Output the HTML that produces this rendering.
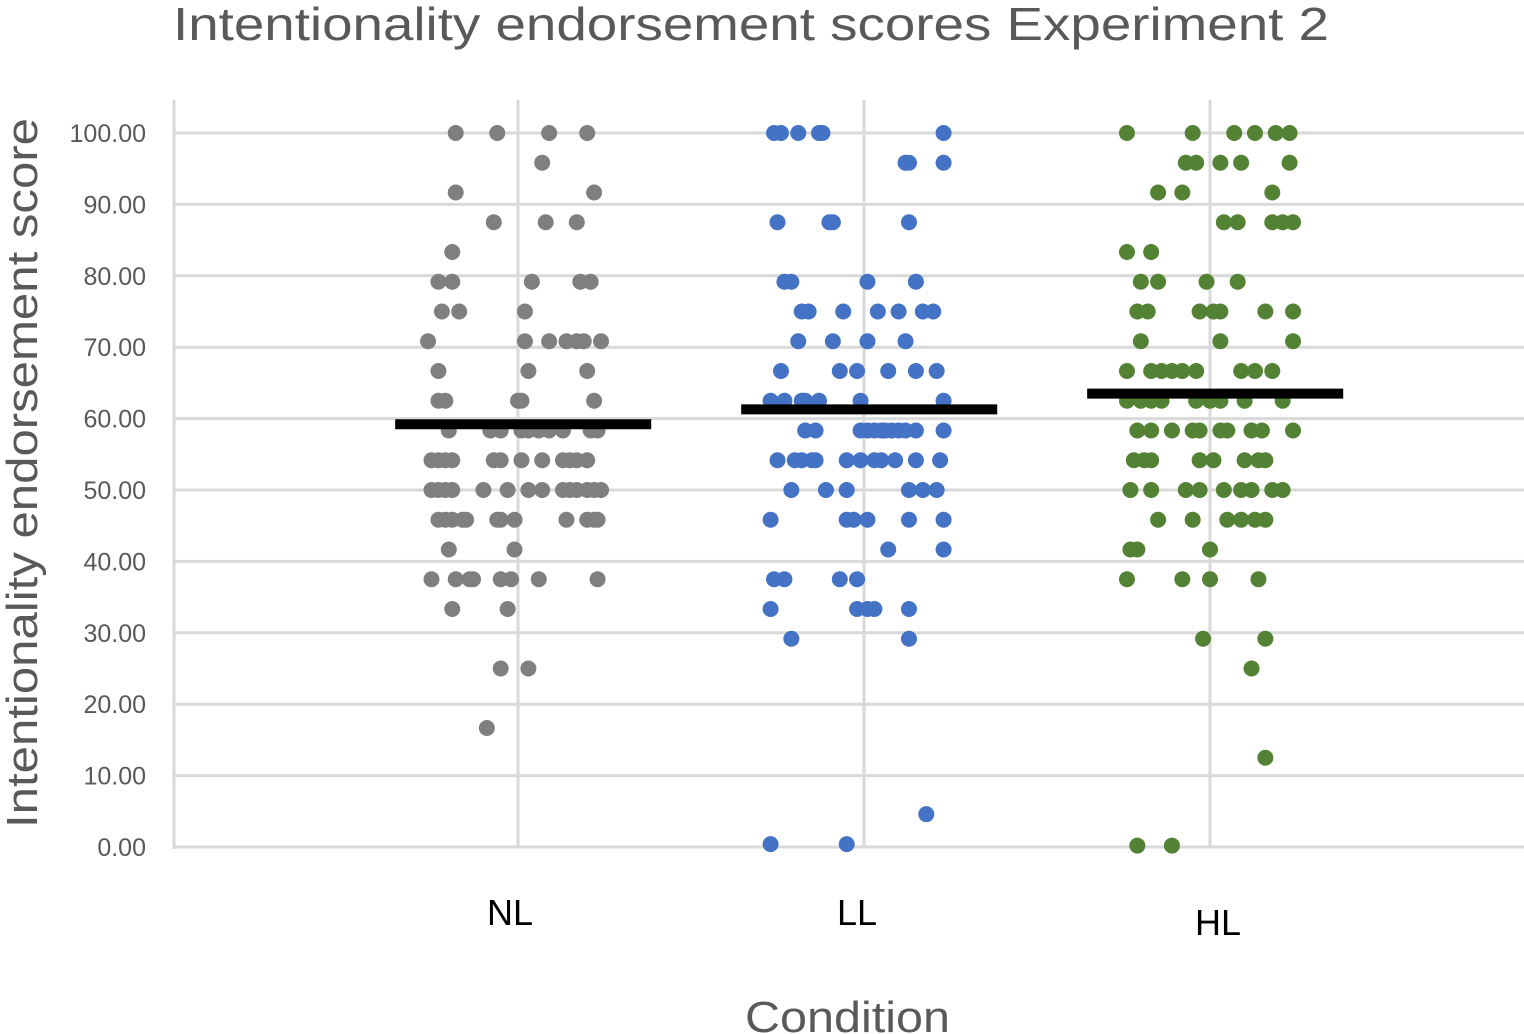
<!DOCTYPE html>
<html><head><meta charset="utf-8"><style>
html,body{margin:0;padding:0;background:#fff;}
svg{display:block;font-family:"Liberation Sans",sans-serif;}
</style></head><body>
<svg id="chart" width="1524" height="1034" viewBox="0 0 1524 1034">
<text x="173" y="40" font-size="46" fill="#595959" textLength="1156" lengthAdjust="spacingAndGlyphs">Intentionality endorsement scores Experiment 2</text>
<text transform="translate(37,828) rotate(-90)" font-size="44" fill="#595959" textLength="710" lengthAdjust="spacingAndGlyphs">Intentionality endorsement score</text>
<text x="745" y="1032" font-size="44" fill="#595959" textLength="205" lengthAdjust="spacingAndGlyphs">Condition</text>
<g id="grid"></g><g id="dots"></g><g id="means"></g><g id="labels"></g>
</svg>
<script>
const categories = ["NL","LL","HL"];
const yTicks = [0,10,20,30,40,50,60,70,80,90,100];
const means = [59.2, 61.3, 63.5];
const colors = ["#7f7f7f","#4472c4","#548235"];
// rows: [score, jitter offsets in % of category spacing]
const nlRows = [[100,[-18,-6,9,20]],[95.83,[7]],[91.67,[-18,22]],[87.5,[-7,8,17]],[83.33,[-19]],
[79.17,[-23,-19,4,18,21]],[75,[-22,-17,2]],[70.83,[-26,2,9,14,17,19,24]],[66.67,[-23,3,20]],
[62.5,[-23,-21,0,1,22]],[58.33,[-20,-8,-5,1,3,6,9,13,21,23]],[54.17,[-25,-23,-21,-19,-7,-5,1,7,13,15,17,20]],
[50,[-25,-23,-21,-19,-10,-3,3,7,13,15,17,20,22,24]],[45.83,[-23,-21,-19,-16,-15,-6,-5,-1,14,20,22,23]],
[41.67,[-20,-1]],[37.5,[-25,-18,-14,-13,-5,-2,6,23]],[33.33,[-19,-3]],[25,[-5,3]],[16.67,[-9]]];
const llRows = [[100,[-26,-24,-19,-13,-12,23]],[95.83,[12,13,23]],[87.5,[-25,-10,-9,13]],[79.17,[-23,-21,1,15]],
[75,[-18,-16,-6,4,10,17,20]],[70.83,[-19,-9,1,12]],[66.67,[-24,-7,-2,7,15,21]],[62.5,[-27,-23,-18,-17,-13,-1,23]],
[58.33,[-17,-14,-1,1,3,5,6,8,10,12,15,23]],[54.17,[-25,-20,-18,-15,-14,-5,-1,3,5,9,15,22]],
[50,[-21,-11,-5,13,17,21]],[45.83,[-27,-5,-3,1,13,23]],[41.67,[7,23]],[37.5,[-26,-23,-7,-2]],
[33.33,[-27,-2,1,3,13]],[29.17,[-21,13]],[4.6,[18]],[0.4,[-27,-5]]];
const hlRows = [[100,[-24,-5,7,13,19,23]],[95.83,[-7,-4,3,9,23]],[91.67,[-15,-8,18]],[87.5,[4,8,18,21,24]],
[83.33,[-24,-17]],[79.17,[-20,-15,-1,8]],[75,[-21,-18,-3,1,3,16,24]],[70.83,[-20,3,24]],
[66.67,[-24,-17,-14,-11,-8,-4,9,13,18]],[62.5,[-24,-20,-17,-14,-4,0,3,10,21]],
[58.33,[-21,-17,-11,-5,-3,3,5,12,15,24]],[54.17,[-22,-19,-17,-3,1,10,14,16]],
[50,[-23,-17,-7,-3,4,9,12,18,21]],[45.83,[-15,-5,5,9,13,16]],[41.67,[-23,-21,0]],
[37.5,[-24,-8,0,14]],[29.17,[-2,16]],[25,[12]],[12.5,[16]],[0.2,[-21,-11]]];
const groups = [nlRows, llRows, hlRows];

const NS="http://www.w3.org/2000/svg";
const y = v => 847 - v*7.14;
const x = c => 518 + c*346;
function mk(tag, attrs, parent){const e=document.createElementNS(NS,tag);for(const k in attrs)e.setAttribute(k,attrs[k]);parent.appendChild(e);return e;}
const grid=document.getElementById('grid'), dots=document.getElementById('dots'), meansG=document.getElementById('means'), labels=document.getElementById('labels');
const labelShift=[-8,-7,8];
yTicks.forEach(t=>{
  const l=mk('line',{x1:174,x2:1524,y1:y(t),y2:y(t),stroke:'#d9d9d9','stroke-width':3},grid);
  
  
  const tx=mk('text',{x:146,y:y(t)+9,'text-anchor':'end','font-size':25,fill:'#595959'},labels);
  tx.textContent=t.toFixed(2);
  
  
});
const ax=mk('line',{x1:174,x2:174,y1:100,y2:849,stroke:'#d9d9d9','stroke-width':3},grid);


categories.forEach((c,i)=>{
  const v=mk('line',{x1:x(i),x2:x(i),y1:100,y2:847,stroke:'#d9d9d9','stroke-width':3},grid);
  
  
  const tx=mk('text',{x:x(i)+labelShift[i],y:i==2?935:925,'text-anchor':'middle','font-size':36,fill:'#000'},labels);
  tx.textContent=c;
  
  
  groups[i].forEach(r=>{
    r[1].forEach(j=>{
      const d=mk('circle',{cx:x(i+j/100),cy:y(r[0]),r:8,fill:colors[i]},dots);
      
      
    });
  });
  const m=mk('line',{x1:x(i-0.355),x2:x(i+0.385),y1:y(means[i]),y2:y(means[i]),stroke:'#000','stroke-width':10},meansG);
  
  
});
</script>
</body></html>
